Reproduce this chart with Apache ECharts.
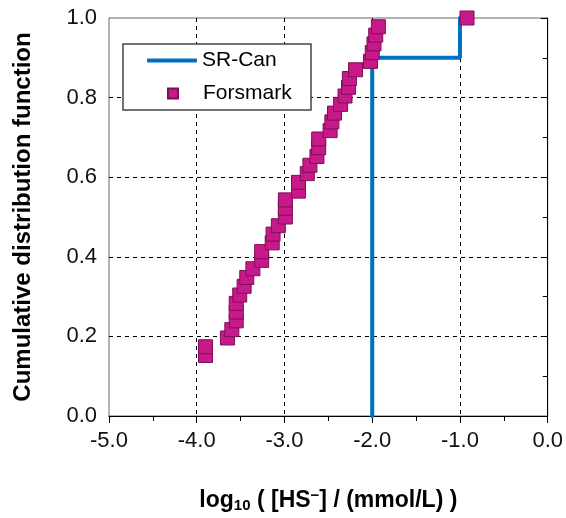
<!DOCTYPE html>
<html>
<head>
<meta charset="utf-8">
<script src="https://cdn.jsdelivr.net/npm/echarts@6/dist/echarts.min.js"></script>
<style>
html,body{margin:0;padding:0;background:#fff;}
#chart{width:566px;height:518px;}
</style>
</head>
<body>
<div id="chart"></div>
<script>
// SR-Can step curve
var srcanX = [-2.0, -2.0, -1.0, -1.0];
var srcanY = [0.0, 0.9, 0.9, 1.0];
// Forsmark observations (log10 HS- vs CDF)
var forsmarkX = [-3.90,-3.90,-3.65,-3.60,-3.55,-3.55,-3.55,-3.51,-3.46,-3.43,-3.36,-3.26,-3.26,-3.14,-3.13,-3.07,-2.99,-2.99,-2.99,-2.84,-2.84,-2.74,-2.71,-2.63,-2.61,-2.61,-2.48,-2.46,-2.43,-2.36,-2.31,-2.27,-2.26,-2.19,-2.02,-2.00,-1.98,-1.96,-1.93,-0.92];
var forsmarkCdf = [0.152,0.174,0.196,0.217,0.239,0.261,0.283,0.304,0.326,0.348,0.370,0.391,0.413,0.435,0.457,0.478,0.500,0.522,0.543,0.565,0.587,0.609,0.630,0.652,0.674,0.696,0.717,0.739,0.761,0.783,0.804,0.826,0.848,0.870,0.891,0.913,0.935,0.957,0.978,1.000];
var xTicks = [-5, -4, -3, -2, -1, 0];
var yTicks = [0, 0.2, 0.4, 0.6, 0.8, 1.0];

var font = 'Liberation Sans, Arial, sans-serif';
var chart = echarts.init(document.getElementById('chart'), null, {renderer: 'canvas'});

function pairs(xs, ys) { return xs.map(function (x, i) { return [x, ys[i]]; }); }

var option = {
  animation: false,
  backgroundColor: '#fff',
  grid: {left: 109, right: 18, top: 18, bottom: 102, show: true, borderColor: '#666', borderWidth: 1},
  xAxis: {
    type: 'value', min: xTicks[0], max: xTicks[xTicks.length - 1], interval: 1,
    axisLine: {show: true, onZero: false, lineStyle: {color: '#000', width: 1}},
    axisTick: {show: true, length: 7, lineStyle: {color: '#000'}},
    minorTick: {show: true, splitNumber: 2, length: 5, lineStyle: {color: '#000'}},
    splitLine: {show: true, showMinLine: false, showMaxLine: false, lineStyle: {color: '#000', type: [4, 4], width: 1}},
    axisLabel: {fontFamily: font, fontSize: 22, color: '#111', margin: 14, formatter: function (v) { return v.toFixed(1); }},
    name: '{b|log}{sub|10}{b| ( [HS}{sup|−}{b|] / (mmol/L) )}',
    nameLocation: 'middle', nameGap: 72,
    nameTextStyle: {
      rich: {
        b: {fontFamily: font, fontSize: 23, fontWeight: 'bold', color: '#000'},
        sub: {fontFamily: font, fontSize: 15, fontWeight: 'bold', color: '#000', padding: [10, 0, 0, 0]},
        sup: {fontFamily: font, fontSize: 15, fontWeight: 'bold', color: '#000', padding: [0, 0, 10, 0]}
      }
    }
  },
  yAxis: {
    type: 'value', min: yTicks[0], max: yTicks[yTicks.length - 1], interval: 0.2,
    axisLine: {show: true, lineStyle: {color: '#000', width: 1}},
    axisTick: {show: true, length: 7, lineStyle: {color: '#000'}},
    minorTick: {show: true, splitNumber: 2, length: 5, lineStyle: {color: '#000'}},
    splitLine: {show: true, showMinLine: false, showMaxLine: false, lineStyle: {color: '#000', type: [4, 4], width: 1}},
    axisLabel: {fontFamily: font, fontSize: 22, color: '#111', margin: 12, formatter: function (v) { return v.toFixed(1); }},
    name: 'Cumulative distribution function',
    nameLocation: 'middle', nameGap: 74, nameRotate: 90,
    nameTextStyle: {fontFamily: font, fontSize: 24, fontWeight: 'bold', color: '#000'}
  },
  graphic: [{
    type: 'rect', z: 3,
    shape: {x: 123, y: 44, width: 188, height: 66},
    style: {fill: '#fff', stroke: '#444', lineWidth: 1.5}
  }],
  legend: [{
    data: [{name: 'SR-Can', icon: 'roundRect'}], left: 147, top: 50, padding: 0, z: 10,
    itemWidth: 50, itemHeight: 4,
    itemStyle: {color: '#0070C0'},
    textStyle: {fontFamily: font, fontSize: 21, color: '#000'}
  }, {
    data: ['Forsmark'], left: 167, top: 83, padding: 0, z: 10,
    itemWidth: 10, itemHeight: 10,
    textStyle: {fontFamily: font, fontSize: 21, color: '#000', padding: [0, 0, 0, 20]}
  }],
  series: [{
    name: 'SR-Can', type: 'line', data: pairs(srcanX, srcanY),
    symbol: 'none', showSymbol: false, z: 2,
    lineStyle: {color: '#0070C0', width: 4, cap: 'round'},
    itemStyle: {color: '#0070C0'}
  }, {
    name: 'Forsmark', type: 'scatter', data: pairs(forsmarkX, forsmarkCdf),
    symbol: 'rect', symbolSize: 14, z: 4,
    itemStyle: {color: '#C8198A', borderColor: '#7E0E55', borderWidth: 1, opacity: 1}
  }]
};
chart.setOption(option);
</script>
</body>
</html>
